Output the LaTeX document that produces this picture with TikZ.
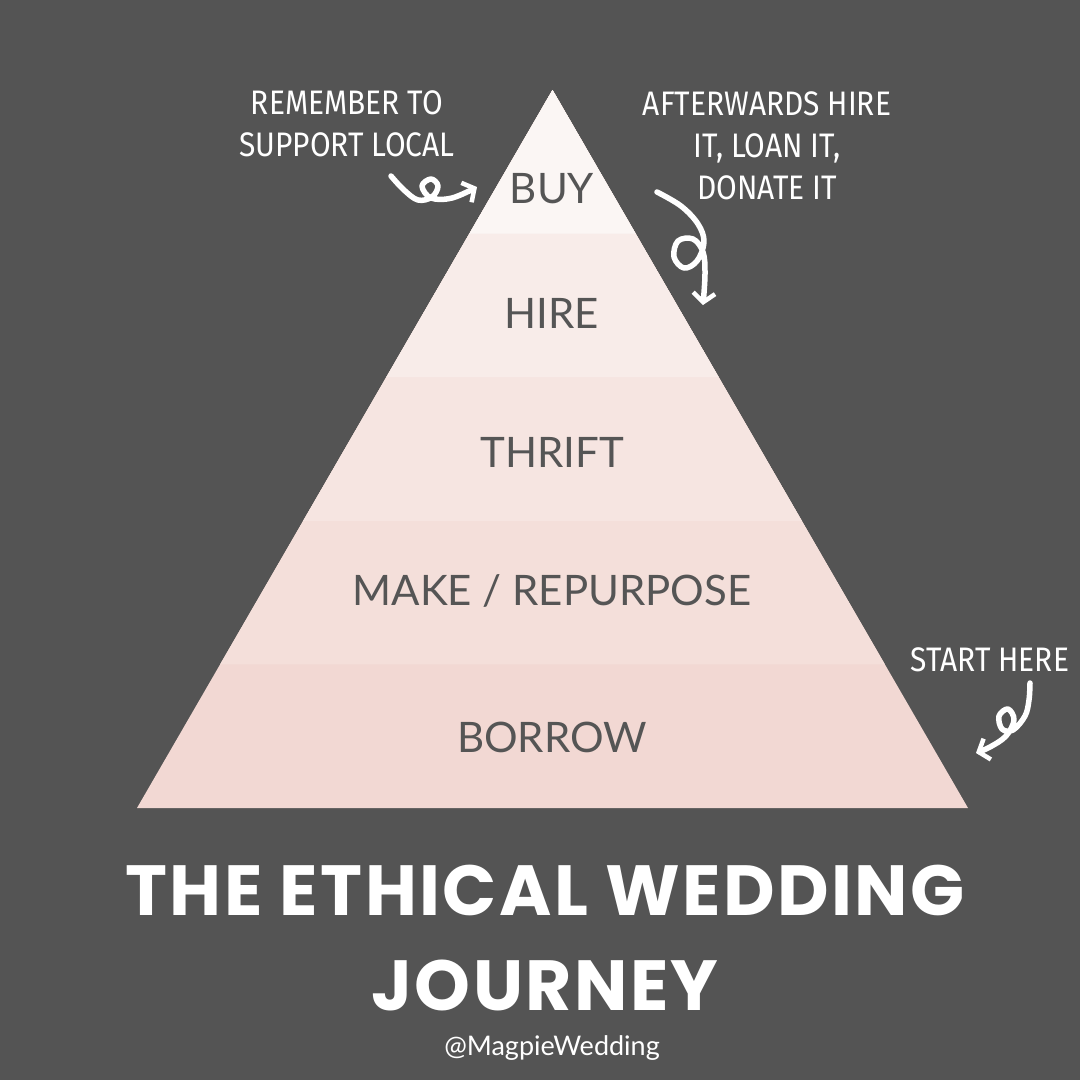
\documentclass[tikz,border=0pt]{standalone}
\usepackage{fontspec}
\usetikzlibrary{calc,arrows.meta}
\setmainfont{Lato}
\newfontfamily\titlefont{Poppins}[LetterSpace=3.4]
\newfontfamily\handfont{Fira Sans}[FakeStretch=0.88]
\definecolor{bg}{HTML}{545454}
\definecolor{ink}{HTML}{555555}
\definecolor{bandA}{HTML}{FBF6F4}
\definecolor{bandB}{HTML}{F8ECE9}
\definecolor{bandC}{HTML}{F6E5E1}
\definecolor{bandD}{HTML}{F4DFDA}
\definecolor{bandE}{HTML}{F2D8D3}
\tikzset{
  level/.style={text=ink, font=\fontsize{42}{46}\selectfont, inner sep=0pt, anchor=base},
  note/.style={text=white, font=\handfont\fontsize{34}{42}\selectfont, align=center, inner sep=0pt},
  handarrow/.style={draw=white, line width=5.5pt, line cap=round, line join=round,
    -{Straight Barb[length=9pt,width=22pt,line width=4.5pt]}},
  titletext/.style={text=white, font=\titlefont\bfseries\fontsize{71}{80}\selectfont, inner sep=0pt, anchor=base},
}
\begin{document}
\begin{tikzpicture}[x=1pt,y=-1pt]
\useasboundingbox (0,0) rectangle (1080,1080);
\fill[bg] (0,0) rectangle (1080,1080);
% pyramid
\coordinate (A) at (552.5,90);
\coordinate (L) at (137,808);
\coordinate (R) at (968,808);
\foreach \t/\n in {0.2/1,0.4/2,0.6/3,0.8/4}{
  \coordinate (L\n) at ($(A)!\t!(L)$);
  \coordinate (R\n) at ($(A)!\t!(R)$);
}
\fill[bandE] (A) -- (L) -- (R) -- cycle;
\fill[bandD] (A) -- (L4) -- (R4) -- cycle;
\fill[bandC] (A) -- (L3) -- (R3) -- cycle;
\fill[bandB] (A) -- (L2) -- (R2) -- cycle;
\fill[bandA] (A) -- (L1) -- (R1) -- cycle;
% labels
\node[level] (buy) at (552,203) {BUY};
\node[level] (hire) at (552,328) {HIRE};
\node[level] (thrift) at (552,467) {THRIFT};
\node[level] (make) at (552,605) {MAKE / REPURPOSE};
\node[level] (borrow) at (552,752) {BORROW};
% notes
\node[note] (local) at (347,124) {REMEMBER TO\\SUPPORT LOCAL};
\node[note] (after) at (767,146) {AFTERWARDS HIRE\\IT, LOAN IT,\\DONATE IT};
\node[note] (start) at (990,660) {START HERE};
% hand arrows
\coordinate (a1s) at (391,176);
\coordinate (a1e) at (477,187);
\draw[handarrow] plot[smooth, tension=0.6] coordinates {(a1s) (404,190) (418,200) (432,197) (438,186) (431,179) (422,186) (431,198) (452,198) (a1e)};
\coordinate (a2s) at (657,192);
\coordinate (a2e) at (703,305);
\draw[handarrow] plot[smooth, tension=0.6] coordinates {(a2s) (681,206) (698,224) (704,242) (697,261) (684,268) (674,257) (678,241) (693,239) (703,252) (705,274) (a2e)};
\coordinate (a3s) at (1030,683);
\coordinate (a3e) at (976,753);
\draw[handarrow] plot[smooth, tension=0.6] coordinates {(a3s) (1029,700) (1025,716) (1013,730) (1002,729) (999,716) (1008,709) (1014,720) (1006,736) (990,747) (a3e)};
% title
\node[titletext] (title1) at (545,915) {THE ETHICAL WEDDING};
\node[titletext] (title2) at (545,1010) {JOURNEY};
\node[text=white, font=\fontsize{27}{30}\selectfont, inner sep=0pt, anchor=base] (handle) at (552,1055) {@MagpieWedding};
\end{tikzpicture}
\end{document}
